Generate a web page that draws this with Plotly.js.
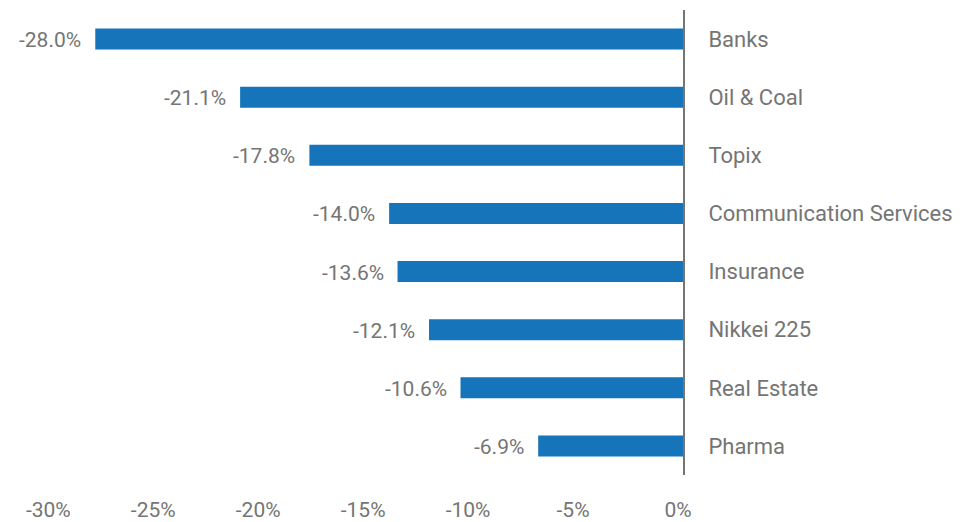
<!DOCTYPE html>
<html>
<head>
<meta charset="utf-8">
<script src="https://cdn.plot.ly/plotly-3.0.1.min.js"></script>
<style>html,body{margin:0;padding:0;background:#fff;}#chart{width:963px;height:522px;}</style>
</head>
<body>
<div id="chart"></div>
<script>
const categories = ["Banks", "Oil & Coal", "Topix", "Communication Services", "Insurance", "Nikkei 225", "Real Estate", "Pharma"];
const values = [-28.0, -21.1, -17.8, -14.0, -13.6, -12.1, -10.6, -6.9];
const tickValues = [-30, -25, -20, -15, -10, -5, 0];
const tickLabels = ["-30%", "-25%", "-20%", "-15%", "-10%", "-5%", "0%"];

const gray = "#757575";
const font = {family: "Roboto, sans-serif", size: 21, color: gray};
const catFont = {family: "Roboto, sans-serif", size: 22, color: gray};

const trace = {
  type: "bar",
  orientation: "h",
  x: values,
  y: categories,
  marker: {color: "#1574BA"},
  hoverinfo: "skip"
};

const annotations = values.map((v, i) => ({
  x: v, y: categories[i], xref: "x", yref: "y",
  text: v.toFixed(1) + "%",
  showarrow: false, xanchor: "right", yanchor: "middle",
  xshift: -12, yshift: -1, font: font
}));

const layout = {
  width: 963, height: 522,
  margin: {l: 47, r: 280, t: 10, b: 47},
  paper_bgcolor: "#fff", plot_bgcolor: "#fff",
  font: font,
  showlegend: false,
  bargap: 0.64,
  xaxis: {
    range: [-30.3, 0],
    tickvals: tickValues, ticktext: tickLabels,
    showgrid: false, zeroline: false, showline: false,
    ticks: "", ticklabelstandoff: 20, ticklabelshift: -5,
    tickfont: font, fixedrange: true
  },
  yaxis: {
    side: "right",
    autorange: "reversed",
    showgrid: false, zeroline: false,
    showline: true, linecolor: gray, linewidth: 2,
    ticks: "", ticklabelstandoff: 19,
    tickfont: catFont, fixedrange: true
  },
  annotations: annotations
};

Plotly.newPlot("chart", [trace], layout, {displayModeBar: false, staticPlot: true});
</script>
</body>
</html>
